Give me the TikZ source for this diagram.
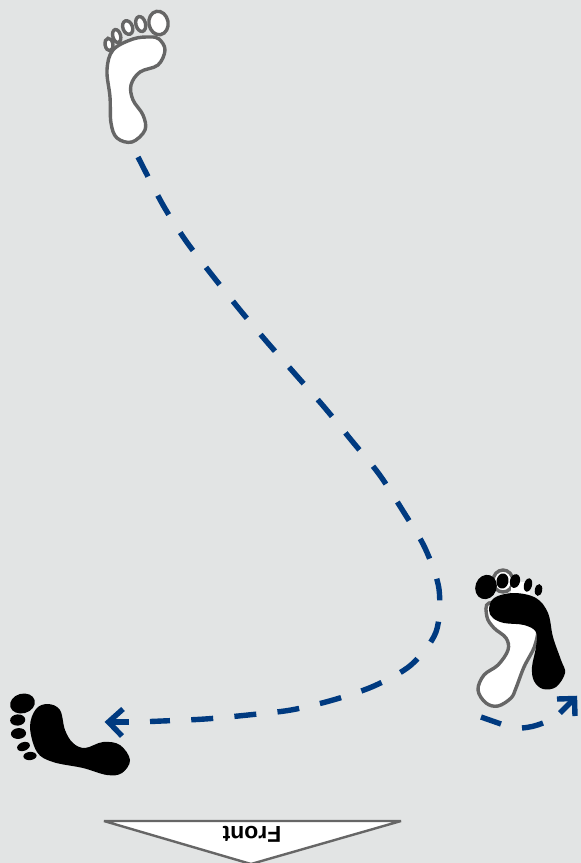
\documentclass[tikz,border=0pt]{standalone}
\usepackage{fontspec}
\setmainfont{Liberation Sans}
\usetikzlibrary{arrows.meta}
\definecolor{bgc}{HTML}{E2E4E4}
\definecolor{gc}{HTML}{666666}
\definecolor{bc}{HTML}{003A80}
\tikzset{
 whitefoot/.style={draw=gc,line width=3.4pt,fill=white},
 blackfoot/.style={fill=black},
 walk/.style={draw=bc,line width=5.4pt,dash pattern=on 22pt off 21.3pt},
 walkplain/.style={draw=bc,line width=5.4pt},
 headline/.style={draw=bc,line width=5.4pt,line cap=butt,line join=miter},
 frontmark/.style={draw=gc,line width=2.4pt,fill=white,line join=bevel}
}
\begin{document}
\begin{tikzpicture}[x=1pt,y=-1pt]
\fill[bgc] (0,0) rectangle (581,863);
\useasboundingbox (0,0) rectangle (581,863);
% white foot, top
\draw[whitefoot] plot[smooth cycle,tension=0.6] coordinates {(133,39)(150,37)(159,39)(165,50)(158,65)(140,72)(131,85)(133,100)(143,115)(145,130)(132,142)(117,138)(111,123)(110,97)(107,70)(113,50)};
\draw[whitefoot] (158.5,23) ellipse[x radius=9.6,y radius=11.8,rotate=10];
\draw[whitefoot] (140.7,24) ellipse[x radius=4.8,y radius=7.6,rotate=15];
\draw[whitefoot] (127.7,27.5) ellipse[x radius=4.8,y radius=7,rotate=20];
\draw[whitefoot] (116.7,36) ellipse[x radius=3.9,y radius=6.6,rotate=15];
\draw[whitefoot] (109,44.5) ellipse[x radius=3.9,y radius=6.3,rotate=10];
% right feet
\draw[whitefoot] (503,581) ellipse[x radius=10,y radius=11];
\fill[white] (511,582) rectangle (530,597);
\draw[whitefoot] plot[smooth cycle,tension=0.6] coordinates {(489,603)(487,617)(494,628)(506,638)(508,650)(498,665)(484,675)(478,690)(486,703)(498,706)(511,698)(516,688)(524,667)(535,645)(536,626)(515,610)};
\fill[blackfoot] plot[smooth cycle,tension=0.6] coordinates {(489,610)(494,598)(514,593)(536,598)(548,613)(553,637)(561,660)(565,673)(556,687)(543,689)(534,681)(532,667)(536,647)(536,632)(524,625)(504,623)(493,618)};
\fill[blackfoot] (486,587) ellipse[x radius=10.6,y radius=12.4,rotate=-20];
\fill[blackfoot] (502.5,581) ellipse[x radius=6,y radius=7.6,rotate=-10];
\fill[blackfoot] (515,581) ellipse[x radius=5,y radius=7,rotate=-15];
\fill[blackfoot] (528,585) ellipse[x radius=4,y radius=6.8,rotate=-15];
\fill[blackfoot] (538.5,590) ellipse[x radius=3.7,y radius=6,rotate=-10];
% black foot, left
\fill[blackfoot] plot[smooth cycle,tension=0.6] coordinates {(30,727)(36,709)(48,704)(60,710)(65,730)(73,743)(85,748)(103,742)(120,745)(130,760)(122,773)(107,775)(83,768)(53,762)(37,752)};
\fill[blackfoot] (22.5,703.5) ellipse[x radius=12.6,y radius=9.8,rotate=15];
\fill[blackfoot] (17.7,720) ellipse[x radius=7.6,y radius=5.6,rotate=5];
\fill[blackfoot] (18.5,733.5) ellipse[x radius=7.6,y radius=5.4,rotate=5];
\fill[blackfoot] (23.5,746.5) ellipse[x radius=6.6,y radius=4.3,rotate=20];
\fill[blackfoot] (30,756) ellipse[x radius=6.6,y radius=4.1,rotate=5];
% long dashed walk
\coordinate (walkstart) at (138,157);
\coordinate (walktip) at (108.5,722);
\draw[walk] plot[smooth,tension=0.5] coordinates {(walkstart)(163,205)(186,241)(212,275)(240,310)(267,342)(296,375)(325,408)(352,441)(379,474)(403,511)(425,548)(439,589)(436,632)(411,665)(374,686)(333,700)(291,710)(248,715)(205,719)(162,721)(150,721.5)};
\draw[walkplain] (129,722) -- (walktip);
\coordinate (armA) at (123,709);
\coordinate (armB) at (122,736);
\draw[headline] (armA) -- (walktip) -- (armB);
% short dashed turn
\coordinate (turnstart) at (481,717);
\coordinate (turntip) at (574.5,698.5);
\draw[walkplain] (turnstart) -- (501,724);
\draw[walkplain] (522,728) to[bend right=8] (543,723);
\draw[walkplain] (560,713) -- (turntip);
\coordinate (armC) at (557,699);
\coordinate (armD) at (575,716);
\draw[headline] (armC) -- (turntip) -- (armD);
% front marker
\coordinate (frontA) at (104,821);
\coordinate (frontB) at (401,821);
\coordinate (frontC) at (251,864);
\draw[frontmark] (frontA) -- (frontB) -- (frontC) -- cycle;
\node[inner sep=0pt,rotate=180,font=\bfseries\fontsize{23}{25}\selectfont] (fronttext) at (252,834) {Front};
\end{tikzpicture}
\end{document}
